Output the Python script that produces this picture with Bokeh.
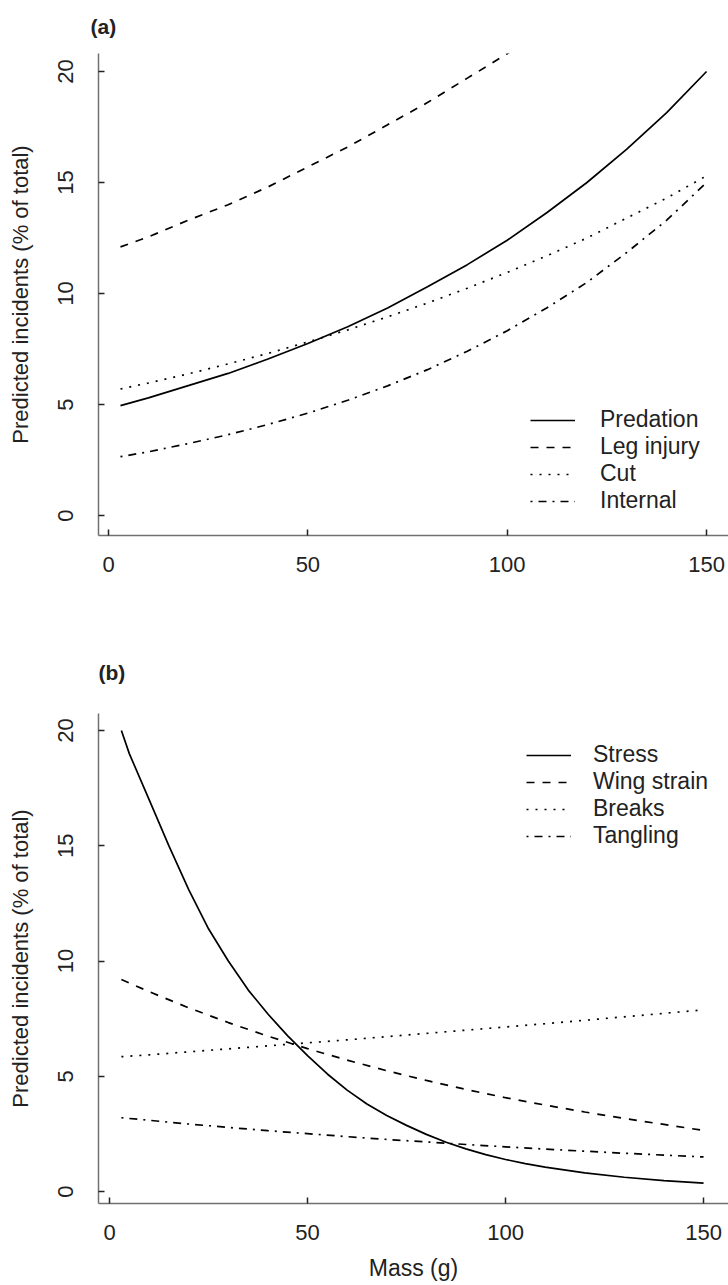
from bokeh.plotting import figure
from bokeh.models import Range1d, Legend, LegendItem, FixedTicker
from bokeh.layouts import column
from bokeh.embed import file_html
from bokeh.resources import INLINE

# ---------------- data ----------------
mass = [3, 10, 20, 30, 40, 50, 60, 70, 80, 90, 100, 110, 120, 130, 140, 150]

# panel (a)
predation = [4.95, 5.3, 5.85, 6.4, 7.05, 7.75, 8.5, 9.35, 10.3, 11.3, 12.4, 13.65, 15.0, 16.5, 18.15, 20.0]
mass_leg = [3, 10, 20, 30, 40, 50, 60, 70, 80, 90, 100, 110]
leg_injury = [12.1, 12.55, 13.3, 14.0, 14.8, 15.7, 16.6, 17.6, 18.6, 19.7, 20.8, 22.0]
cut = [5.7, 5.97, 6.38, 6.83, 7.3, 7.82, 8.36, 8.95, 9.57, 10.24, 10.95, 11.7, 12.5, 13.4, 14.3, 15.3]
internal = [2.65, 2.87, 3.24, 3.64, 4.1, 4.61, 5.19, 5.84, 6.57, 7.4, 8.32, 9.36, 10.5, 11.85, 13.3, 15.0]

# panel (b)
mass_stress = [3, 5, 10, 15, 20, 25, 30, 35, 40, 45, 50, 55, 60, 65, 70, 75, 80, 85, 90, 95,
               100, 105, 110, 120, 130, 140, 150]
stress = [20.0, 19.0, 17.0, 15.0, 13.1, 11.4, 10.0, 8.75, 7.7, 6.75, 5.9, 5.1, 4.4, 3.8, 3.3,
          2.87, 2.48, 2.14, 1.85, 1.6, 1.39, 1.21, 1.06, 0.81, 0.62, 0.47, 0.36]
wing_strain = [9.2, 8.67, 7.97, 7.33, 6.74, 6.2, 5.7, 5.24, 4.82, 4.43, 4.07, 3.75, 3.45, 3.17, 2.91, 2.65]
breaks = [5.85, 5.93, 6.06, 6.19, 6.32, 6.45, 6.58, 6.72, 6.86, 7.0, 7.14, 7.28, 7.43, 7.58, 7.73, 7.88]
tangling = [3.2, 3.09, 2.93, 2.78, 2.64, 2.51, 2.38, 2.26, 2.15, 2.04, 1.94, 1.84, 1.75, 1.66, 1.58, 1.5]

x_ticks = [0, 50, 100, 150]
y_ticks = [0, 5, 10, 15, 20]
y_title = "Predicted incidents (% of total)"
x_title = "Mass (g)"

FONT = "Liberation Sans"
DASHES = ["solid", "8 8", "2 7", "2 6 8 6"]


def make_panel(tag, series, height, x_range, y_range, top, bottom,
               legend_loc, tag_offset, tag_standoff, std, show_xlabel):
    p = figure(width=728, height=height, output_backend="svg",
               toolbar_location=None, x_range=Range1d(*x_range),
               y_range=Range1d(*y_range), min_border_left=98,
               min_border_right=0, min_border_top=top,
               min_border_bottom=bottom, title=tag)
    p.outline_line_color = None
    p.xgrid.visible = False
    p.ygrid.visible = False
    p.background_fill_color = "white"
    p.border_fill_color = "white"

    p.title.align = "left"
    p.title.vertical_align = "top"
    p.title.offset = tag_offset
    p.title.standoff = tag_standoff
    p.title.text_font = FONT
    p.title.text_font_size = "21px"
    p.title.text_font_style = "bold"
    p.title.text_color = "#222222"

    items = []
    for (name, xs, ys), dash in zip(series, DASHES):
        r = p.line(xs, ys, line_color="black", line_width=1.7,
                   line_dash=dash)
        items.append(LegendItem(label=name, renderers=[r]))

    leg = Legend(items=items, location=legend_loc,
                 background_fill_alpha=0, border_line_alpha=0,
                 padding=0, margin=0, spacing=0,
                 glyph_width=45, glyph_height=26, label_height=26,
                 label_standoff=std, label_text_font=FONT,
                 label_text_font_size="23px", label_text_color="#222222")
    p.add_layout(leg)

    for ax in (p.xaxis[0], p.yaxis[0]):
        ax.axis_line_color = "#707070"
        ax.axis_line_width = 1.5
        ax.major_tick_line_color = "#222222"
        ax.major_tick_line_width = 1.5
        ax.major_tick_in = 6
        ax.major_tick_out = 0
        ax.minor_tick_line_color = None
        ax.major_label_text_font = FONT
        ax.major_label_text_font_size = "22px"
        ax.major_label_text_color = "#222222"
        ax.axis_label_text_font = FONT
        ax.axis_label_text_font_style = "normal"
        ax.axis_label_text_color = "#222222"

    p.xaxis.ticker = FixedTicker(ticks=x_ticks)
    p.yaxis.ticker = FixedTicker(ticks=y_ticks)
    p.xaxis.major_label_standoff = 21
    p.yaxis.major_label_standoff = 25
    p.yaxis.major_label_orientation = "vertical"
    p.yaxis.axis_label = y_title
    p.yaxis.axis_label_text_font_size = "22px"
    p.yaxis.axis_label_standoff = 23
    if show_xlabel:
        p.xaxis.axis_label = x_title
        p.xaxis.axis_label_text_font_size = "23px"
        p.xaxis.axis_label_standoff = 12
    return p


pa = make_panel(
    "(a)",
    [("Predation", mass, predation), ("Leg injury", mass_leg, leg_injury),
     ("Cut", mass, cut), ("Internal", mass, internal)],
    620, (-2.51, 155.5), (-0.9, 20.81), 53, 85,
    (432, 21), -8, 27, 25, False)

pb = make_panel(
    "(b)",
    [("Stress", mass_stress, stress), ("Wing strain", mass, wing_strain),
     ("Breaks", mass, breaks), ("Tangling", mass, tangling)],
    665, (-2.78, 156.3), (-0.52, 20.74), 93, 82,
    (428, 354), 0, 55, 22, True)

layout = column(pa, pb, spacing=0)
open("out.html", "w").write(file_html(layout, INLINE))
